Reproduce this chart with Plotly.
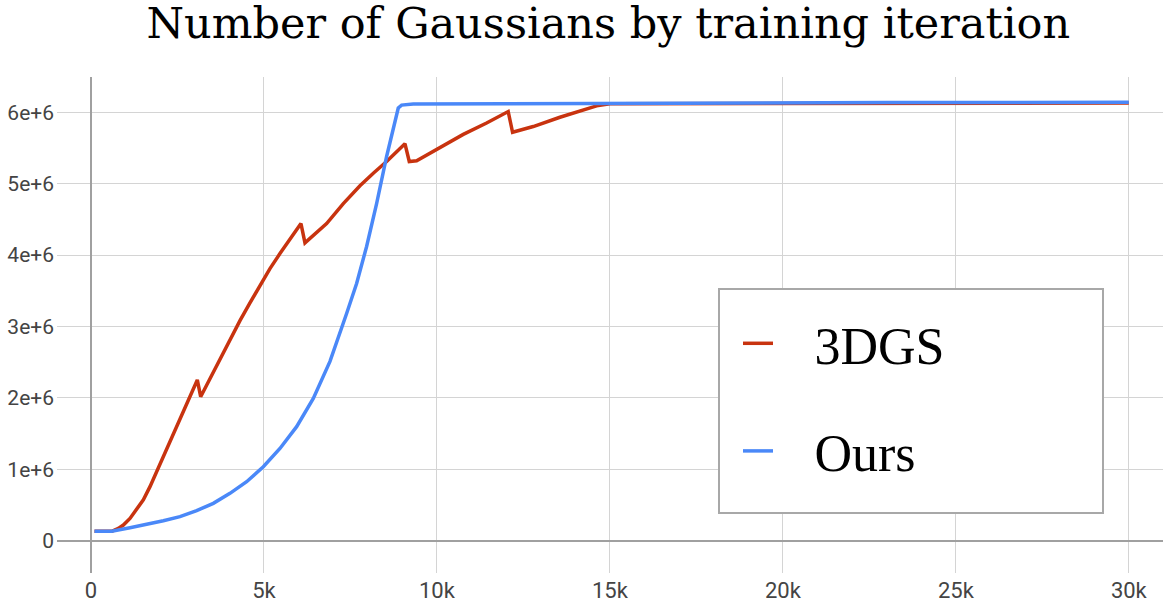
import plotly.graph_objects as go

# iterations / number of gaussians
iters_3dgs = [100, 600, 790, 935, 1127, 1320, 1513, 1705, 1898, 2139, 2380, 2620, 2861,
              3073, 3170, 3439, 3728, 4017, 4306, 4595, 4884, 5173, 5462, 5751, 6069,
              6185, 6426, 6811, 7293, 7775, 8160, 8545, 9075, 9200, 9413, 9991, 10761,
              11435, 12060, 12186, 12783, 13555, 14133, 14615, 15000, 20000, 25000, 30000]
gauss_3dgs = [0.13e6, 0.13e6, 0.17e6, 0.217e6, 0.31e6, 0.43e6, 0.57e6, 0.755e6, 0.965e6,
              1.22e6, 1.48e6, 1.745e6, 2.015e6, 2.25e6, 2.015e6, 2.27e6, 2.54e6, 2.81e6,
              3.08e6, 3.33e6, 3.58e6, 3.81e6, 4.02e6, 4.22e6, 4.44e6, 4.17e6, 4.28e6,
              4.44e6, 4.72e6, 4.97e6, 5.145e6, 5.31e6, 5.56e6, 5.31e6, 5.32e6, 5.48e6,
              5.69e6, 5.85e6, 6.01e6, 5.72e6, 5.80e6, 5.93e6, 6.02e6, 6.09e6, 6.12e6,
              6.125e6, 6.13e6, 6.13e6]

iters_ours = [100, 600, 1127, 1609, 2091, 2572, 3054, 3535, 4017, 4499, 4981, 5462, 5944,
              6426, 6908, 7389, 7678, 7967, 8256, 8545, 8786, 8882, 8979, 9315, 12000,
              17000, 23000, 30000]
gauss_ours = [0.13e6, 0.13e6, 0.18e6, 0.227e6, 0.278e6, 0.334e6, 0.418e6, 0.521e6,
              0.661e6, 0.824e6, 1.034e6, 1.29e6, 1.595e6, 1.99e6, 2.51e6, 3.18e6, 3.60e6,
              4.12e6, 4.72e6, 5.38e6, 5.89e6, 6.06e6, 6.10e6, 6.115e6, 6.12e6, 6.13e6,
              6.135e6, 6.14e6]

x_ticks = [0, 5000, 10000, 15000, 20000, 25000, 30000]
x_labels = ["0", "5k", "10k", "15k", "20k", "25k", "30k"]
y_ticks = [0, 1e6, 2e6, 3e6, 4e6, 5e6, 6e6]
y_labels = ["0", "1e+6", "2e+6", "3e+6", "4e+6", "5e+6", "6e+6"]

serif = "Liberation Serif, serif"
pad = "\u00a0\u00a0\u2009"

fig = go.Figure()
fig.add_trace(go.Scatter(x=iters_3dgs, y=gauss_3dgs, mode="lines", name=pad + "3DGS",
                         legendgroup="a", line=dict(color="#c8330f", width=3.5)))
fig.add_trace(go.Scatter(x=iters_ours, y=gauss_ours, mode="lines", name=pad + "Ours",
                         legendgroup="b", line=dict(color="#4a88f8", width=3.5)))

# legend frame
fig.add_shape(type="rect", xref="paper", yref="paper",
              x0=(719 - 57) / 1106, x1=(1103 - 57) / 1106,
              y0=(573 - 513) / 496, y1=(573 - 289) / 496,
              line=dict(color="#a8a8a8", width=2), fillcolor="white", layer="above")

fig.update_layout(
    width=1163, height=600,
    margin=dict(l=57, r=0, t=77, b=27),
    plot_bgcolor="white", paper_bgcolor="white",
    title=dict(text="Number of Gaussians by training iteration", x=0.523, xanchor="center",
               y=0.961, yanchor="middle",
               font=dict(family="DejaVu Serif", size=43, color="black")),
    legend=dict(x=(738 - 57) / 1106, y=(573 - 303) / 496, xanchor="left", yanchor="top",
                bgcolor="rgba(0,0,0,0)", borderwidth=0, tracegroupgap=37,
                traceorder="grouped",
                font=dict(family=serif, size=52, color="black")),
    showlegend=True,
)
fig.update_xaxes(range=[-983, 30988], tickvals=x_ticks, ticktext=x_labels,
                 showgrid=True, gridcolor="#d4d4d4", gridwidth=1,
                 zeroline=True, zerolinecolor="#a0a0a0", zerolinewidth=2,
                 showline=False, ticks="", ticklabelstandoff=2, automargin=False,
                 tickfont=dict(family="Roboto", size=22, color="#444444"))
fig.update_yaxes(range=[-0.455e6, 6.494e6], tickvals=y_ticks, ticktext=y_labels,
                 showgrid=True, gridcolor="#d4d4d4", gridwidth=1,
                 zeroline=True, zerolinecolor="#a0a0a0", zerolinewidth=2,
                 showline=False, ticks="", ticklabelstandoff=2, automargin=False,
                 tickfont=dict(family="Roboto", size=21, color="#444444"))

fig.write_html("out.html", config={"displayModeBar": False},
               post_script="document.body.style.margin='0';")
